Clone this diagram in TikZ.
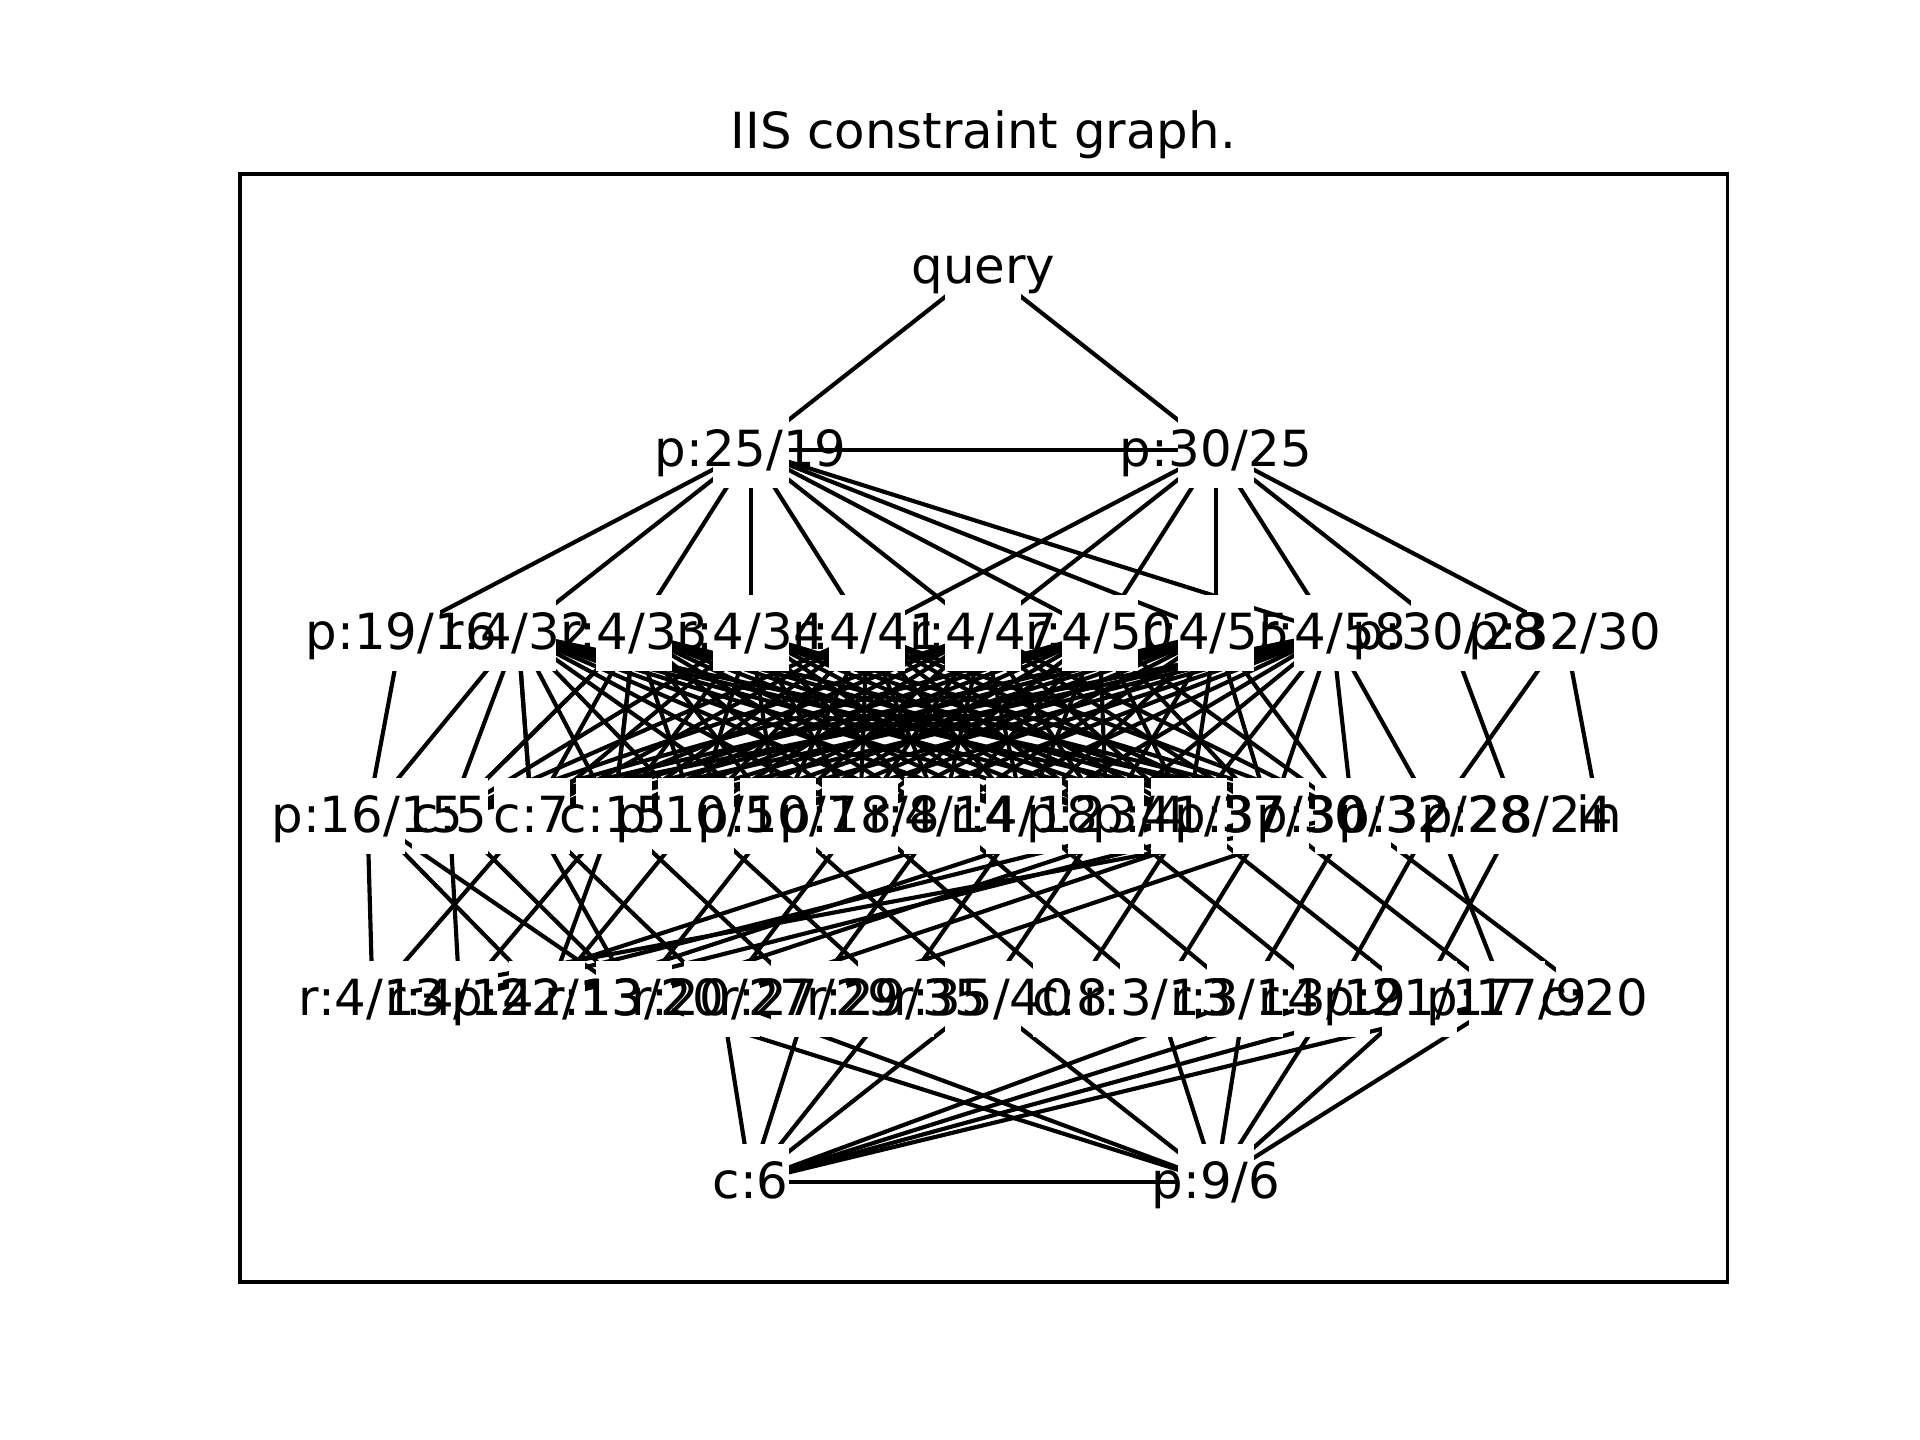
\documentclass[tikz,border=0pt]{standalone}
\usepackage{fontspec}
\setmainfont{DejaVu Sans}
\pgfdeclarelayer{edges}
\pgfsetlayers{edges,main}
\begin{document}
\begin{tikzpicture}[x=0.29498pt,y=-0.29498pt,
  sq/.style={fill=white,draw=none,minimum size=18.3pt,inner sep=0pt,rectangle},
  lab/.style={font=\fontsize{12}{14}\selectfont,inner sep=0pt,text height=0.76em,text depth=0.236em,anchor=center,yshift=-1.4pt},
  ed/.style={line width=1pt,black}]
\useasboundingbox (0,0) rectangle (1568,1176);
\node[font=\fontsize{12}{14}\selectfont,anchor=base,inner sep=0pt] (title) at (803,121.6) {IIS constraint graph.};
\draw[line width=0.8pt] (196,142) rectangle (1411,1047);
% squares
\node[sq] (q) at (803,218) {};
\node[sq] (a1) at (613,367.4) {};
\node[sq] (a2) at (993,367.4) {};
\foreach \i in {1,...,11} {\node[sq] (b\i) at ({233+95*\i},516.8) {};}
\foreach \i in {1,...,16} {\node[sq] (c\i) at ({233+67.0588*\i},666.2) {};}
\foreach \i in {1,...,15} {\node[sq] (d\i) at ({233+71.25*\i},815.6) {};}
\node[sq] (e1) at (613,965) {};
\node[sq] (e2) at (993,965) {};
% edges
\begin{pgfonlayer}{edges}
\foreach \u/\v in {q/a1,q/a2,a1/a2,e1/e2,
  a1/b1,a1/b2,a1/b3,a1/b4,a1/b5,a1/b6,a1/b7,a1/b8,a1/b9,
  a2/b5,a2/b6,a2/b7,a2/b8,a2/b9,a2/b10,a2/b11,
  b1/c1,b10/c15,b11/c14,b11/c16,b9/c14,
  b2/c1,b2/c3,b3/c2,b3/c4}
  {\draw[ed] (\u.center) -- (\v.center);}
\foreach \k in {2,...,9} {
  \foreach \j in {2,3,4,5,6,7,8,9,10,11,12,13} {\draw[ed] (b\k.center) -- (c\j.center);}
}
\foreach \u/\v in {c1/d1,c1/d3,c1/d4,c2/d2,c2/d4,c3/d1,c3/d4,c3/d5,c4/d2,c4/d3,c4/d6,
  c5/d3,c5/d7,c6/d4,c6/d8,c7/d5,c7/d9,c8/d6,c8/d10,c9/d2,c9/d7,c9/d11,
  c10/d3,c10/d8,c10/d12,c11/d2,c11/d4,c11/d9,c11/d13,c12/d3,c12/d5,c12/d10,c12/d14,
  c13/d1,c13/d6,c13/d11,c13/d15,c14/d12,c15/d13,c14/d14,
  d5/e1,d6/e1,d7/e1,d8/e1,d11/e1,d12/e1,d13/e1,d14/e1,
  d4/e2,d5/e2,d8/e2,d10/e2,d11/e2,d12/e2,d13/e2,d14/e2}
  {\draw[ed] (\u.center) -- (\v.center);}
\end{pgfonlayer}
% labels
\node[lab] (lq) at (q) {query};
\node[lab] (la1) at (a1) {p:25/19};
\node[lab] (la2) at (a2) {p:30/25};
\node[lab] (lb1) at (b1) {p:19/16};
\node[lab] (lb2) at (b2) {r:4/32};
\node[lab] (lb3) at (b3) {r:4/33};
\node[lab] (lb4) at (b4) {r:4/34};
\node[lab] (lb5) at (b5) {r:4/41};
\node[lab] (lb6) at (b6) {r:4/47};
\node[lab] (lb7) at (b7) {r:4/50};
\node[lab] (lb8) at (b8) {r:4/55};
\node[lab] (lb9) at (b9) {r:4/58};
\node[lab] (lb10) at (b10) {p:30/28};
\node[lab] (lb11) at (b11) {p:32/30};
\node[lab] (lc1) at (c1) {p:16/15};
\node[lab] (lc2) at (c2) {c:5};
\node[lab] (lc3) at (c3) {c:7};
\node[lab] (lc4) at (c4) {c:15};
\node[lab] (lc5) at (c5) {p:10/5};
\node[lab] (lc6) at (c6) {p:10/7};
\node[lab] (lc7) at (c7) {p:18/8};
\node[lab] (lc8) at (c8) {r:4/14};
\node[lab] (lc9) at (c9) {r:4/18};
\node[lab] (lc10) at (c10) {p:23/4};
\node[lab] (lc11) at (c11) {p:41/37};
\node[lab] (lc12) at (c12) {p:37/30};
\node[lab] (lc13) at (c13) {p:30/32};
\node[lab] (lc14) at (c14) {p:32/28};
\node[lab] (lc15) at (c15) {p:28/24};
\node[lab] (lc16) at (c16) {in};
\node[lab] (ld1) at (d1) {r:4/13};
\node[lab] (ld2) at (d2) {r:4/14};
\node[lab] (ld3) at (d3) {p:22/13};
\node[lab] (ld4) at (d4) {r:13/20};
\node[lab] (ld5) at (d5) {r:20/27};
\node[lab] (ld6) at (d6) {r:27/29};
\node[lab] (ld7) at (d7) {r:29/35};
\node[lab] (ld8) at (d8) {r:35/40};
\node[lab] (ld9) at (d9) {c:8};
\node[lab] (ld10) at (d10) {r:3/13};
\node[lab] (ld11) at (d11) {r:3/14};
\node[lab] (ld12) at (d12) {r:3/19};
\node[lab] (ld13) at (d13) {p:21/17};
\node[lab] (ld14) at (d14) {p:17/9};
\node[lab] (ld15) at (d15) {c:20};
\node[lab] (le1) at (e1) {c:6};
\node[lab] (le2) at (e2) {p:9/6};
\end{tikzpicture}
\end{document}
